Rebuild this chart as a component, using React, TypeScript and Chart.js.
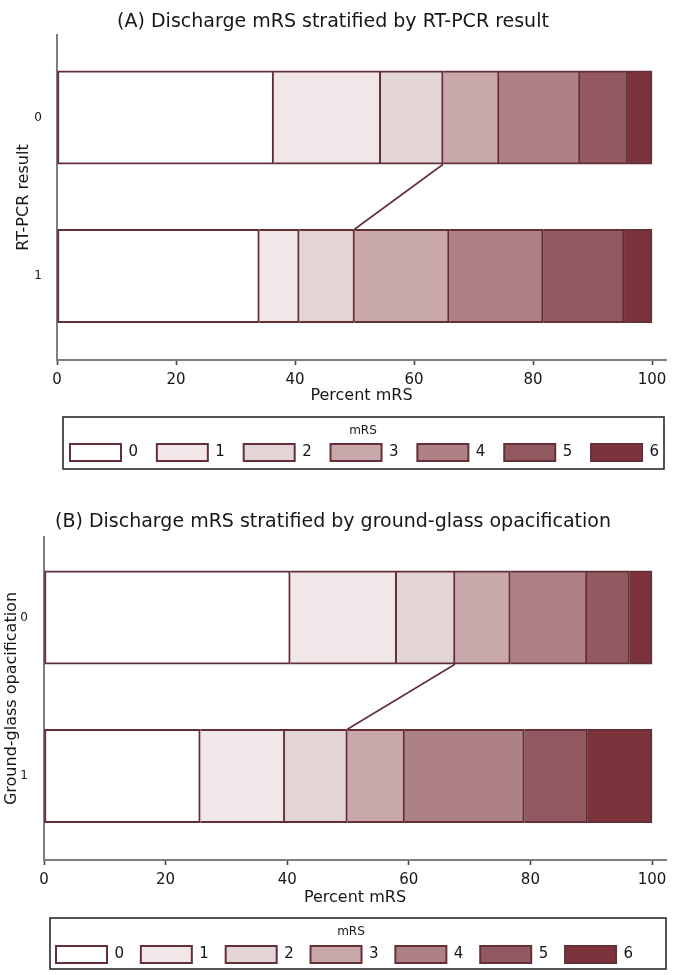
import React, { useEffect, useRef } from 'react';
import { Chart, registerables } from 'chart.js';

Chart.register(...registerables);

// ---- data ----
const mrsLevels = ['0', '1', '2', '3', '4', '5', '6'];
const mrsColors = ['#ffffff', '#f2e7e8', '#e3d4d6', '#c9a8ab', '#ad8186', '#925a60', '#7c333b'];
const groupLabels = ['0', '1'];
const xTickValues = [0, 20, 40, 60, 80, 100];
// percent of patients per discharge mRS level (0..6)
const rtpcrResult0 = [36.4, 18.0, 10.5, 9.4, 13.6, 8.0, 4.1];
const rtpcrResult1 = [34.0, 6.7, 9.3, 15.9, 15.8, 13.6, 4.7];
const ggo0 = [40.5, 17.5, 9.6, 9.1, 12.6, 7.0, 3.7];
const ggo1 = [25.7, 13.9, 10.3, 9.4, 19.7, 10.4, 10.6];
// the connector joins the end of mRS 0–2 (last good-outcome level)
const connectorLevel = 2;

const FONT = "'DejaVu Sans', sans-serif";
const TEXT = '#161616';
const EDGE = '#643038';
const AXIS = '#7e7e7e';
const CANVAS_W = 679;
const CANVAS_H = 475;

type PanelCfg = {
  title: string;
  yTitle: string;
  rows: number[][];
  top: number;
  areaLeft: number;
  areaTop: number;
  areaBottom: number;
  yMin: number;
  yMax: number;
  xMax: number;
  titleCenterY: number;
  yTitleX: number;
  xTitleY: number;
  yLabelPad: number;
  legendX: number;
  legendY: number;
  legendPad: number;
  frame: [number, number, number, number];
  legendTitle: [number, number];
};

const panels: PanelCfg[] = [
  {
    title: '(A) Discharge mRS stratified by RT-PCR result',
    yTitle: 'RT-PCR result',
    rows: [rtpcrResult0, rtpcrResult1],
    top: 0,
    areaLeft: 57,
    areaTop: 35,
    areaBottom: 360,
    yMin: -0.5205,
    yMax: 1.53,
    xMax: 102.35,
    titleCenterY: 22,
    yTitleX: 24,
    xTitleY: 396,
    yLabelPad: 7,
    legendX: 70,
    legendY: 444,
    legendPad: 18.8,
    frame: [63, 417, 664, 469],
    legendTitle: [363, 431],
  },
  {
    title: '(B) Discharge mRS stratified by ground-glass opacification',
    yTitle: 'Ground-glass opacification',
    rows: [ggo0, ggo1],
    top: 500,
    areaLeft: 44,
    areaTop: 37,
    areaBottom: 360,
    yMin: -0.508,
    yMax: 1.53,
    xMax: 102.3,
    titleCenterY: 22,
    yTitleX: 12,
    xTitleY: 398,
    yLabelPad: 8,
    legendX: 56,
    legendY: 446,
    legendPad: 16.8,
    frame: [50, 418, 666, 469],
    legendTitle: [351, 432],
  },
];

function Panel({ cfg }: { cfg: PanelCfg }) {
  const ref = useRef<HTMLCanvasElement>(null);

  useEffect(() => {
    const titleLH = 19 * 1.2;
    const titlePadTop = cfg.titleCenterY - titleLH / 2;
    const titlePadBottom = cfg.areaTop - titleLH - titlePadTop;
    const axisTitleLH = 16 * 1.2;

    const connector = {
      id: 'connector',
      afterDatasetsDraw(chart: any) {
        const meta = chart.getDatasetMeta(connectorLevel);
        const a = meta.data[0].getProps(['x', 'y', 'height'], true);
        const b = meta.data[1].getProps(['x', 'y', 'height'], true);
        const ctx = chart.ctx;
        ctx.save();
        ctx.strokeStyle = EDGE;
        ctx.lineWidth = 1.6;
        ctx.beginPath();
        ctx.moveTo(a.x, a.y + a.height / 2);
        ctx.lineTo(b.x, b.y - b.height / 2);
        ctx.stroke();
        ctx.restore();
      },
    };

    const legendPlace = {
      id: 'legendPlace',
      afterLayout(chart: any) {
        const lg = chart.legend;
        if (!lg) return;
        lg.left = cfg.legendX - cfg.legendPad;
        lg.right = chart.width + 200;
        lg.top = cfg.legendY - cfg.legendPad;
        lg.bottom = lg.top + 60;
        lg.width = lg.right - lg.left;
        lg.height = lg.bottom - lg.top;
      },
      afterDraw(chart: any) {
        const ctx = chart.ctx;
        const [l, t, r, b] = cfg.frame;
        ctx.save();
        ctx.strokeStyle = '#2a2a2a';
        ctx.lineWidth = 1.6;
        ctx.strokeRect(l, t, r - l, b - t);
        ctx.fillStyle = TEXT;
        ctx.font = `12px ${FONT}`;
        ctx.textAlign = 'center';
        ctx.textBaseline = 'middle';
        ctx.fillText('mRS', cfg.legendTitle[0], cfg.legendTitle[1]);
        ctx.restore();
      },
    };

    const chart = new Chart(ref.current as HTMLCanvasElement, {
      type: 'bar',
      data: {
        datasets: mrsLevels.map((lvl, k) => ({
          label: lvl,
          data: cfg.rows.map((row, i) => ({ x: row[k], y: i })),
          backgroundColor: mrsColors[k],
          borderColor: EDGE,
          borderWidth: 2,
          borderSkipped: k === 0 ? false : 'start',
          barThickness: 93.5,
        })),
      } as any,
      options: {
        indexAxis: 'y',
        responsive: false,
        animation: false,
        events: [],
        layout: { padding: { left: 0, right: CANVAS_W - 666, top: 0, bottom: 0 } },
        scales: {
          x: {
            type: 'linear',
            stacked: true,
            min: 0,
            max: cfg.xMax,
            afterBuildTicks: (s: any) => {
              s.ticks = xTickValues.map((v) => ({ value: v }));
            },
            afterFit: (s: any) => {
              const lh = s.chart.legend ? s.chart.legend.height : 0;
              s.height = s.chart.height - lh - cfg.areaBottom;
            },
            ticks: {
              autoSkip: false,
              maxRotation: 0,
              padding: 6,
              color: TEXT,
              font: { family: FONT, size: 15 },
              callback: (v: any) => String(v),
            },
            grid: {
              display: true,
              drawOnChartArea: false,
              drawTicks: true,
              tickLength: 5,
              tickWidth: 1.6,
              tickColor: '#444444',
              color: '#444444',
            },
            border: { display: true, color: AXIS, width: 2 },
            title: {
              display: true,
              text: 'Percent mRS',
              color: TEXT,
              font: { family: FONT, size: 16 },
              padding: { top: 0, bottom: CANVAS_H - 1 - cfg.xTitleY - axisTitleLH / 2 },
            },
          },
          y: {
            type: 'linear',
            stacked: true,
            reverse: true,
            offset: false,
            min: cfg.yMin,
            max: cfg.yMax,
            afterBuildTicks: (s: any) => {
              s.ticks = groupLabels.map((_, i) => ({ value: i }));
            },
            afterFit: (s: any) => {
              s.width = cfg.areaLeft;
            },
            ticks: {
              autoSkip: false,
              padding: cfg.yLabelPad,
              color: TEXT,
              font: { family: FONT, size: 12 },
              callback: (v: any) => groupLabels[v] ?? '',
            },
            grid: { display: false, offset: false },
            border: { display: true, color: AXIS, width: 2 },
            title: {
              display: true,
              text: cfg.yTitle,
              color: TEXT,
              font: { family: FONT, size: 16 },
              padding: { top: cfg.yTitleX - axisTitleLH / 2, bottom: 0 },
            },
          },
        },
        plugins: {
          title: {
            display: true,
            text: cfg.title,
            color: TEXT,
            font: { family: FONT, size: 19, weight: 'normal' },
            padding: { top: titlePadTop, bottom: titlePadBottom },
          },
          legend: {
            display: true,
            position: 'bottom',
            align: 'start',
            maxHeight: 1,
            labels: {
              boxWidth: 51,
              boxHeight: 17,
              padding: cfg.legendPad,
              color: TEXT,
              font: { family: FONT, size: 15 },
            },
          },
          tooltip: { enabled: false },
        },
      } as any,
      plugins: [connector, legendPlace],
    });
    return () => chart.destroy();
  }, [cfg]);

  return (
    <canvas
      ref={ref}
      width={CANVAS_W}
      height={CANVAS_H}
      style={{ position: 'absolute', left: 0, top: cfg.top, width: CANVAS_W, height: CANVAS_H, display: 'block' }}
    />
  );
}

export default function App() {
  return (
    <div
      style={{
        position: 'absolute',
        left: 0,
        top: 0,
        width: CANVAS_W,
        height: 975,
        overflow: 'hidden',
        background: '#ffffff',
      }}
    >
      {panels.map((p, i) => (
        <Panel key={i} cfg={p} />
      ))}
    </div>
  );
}
